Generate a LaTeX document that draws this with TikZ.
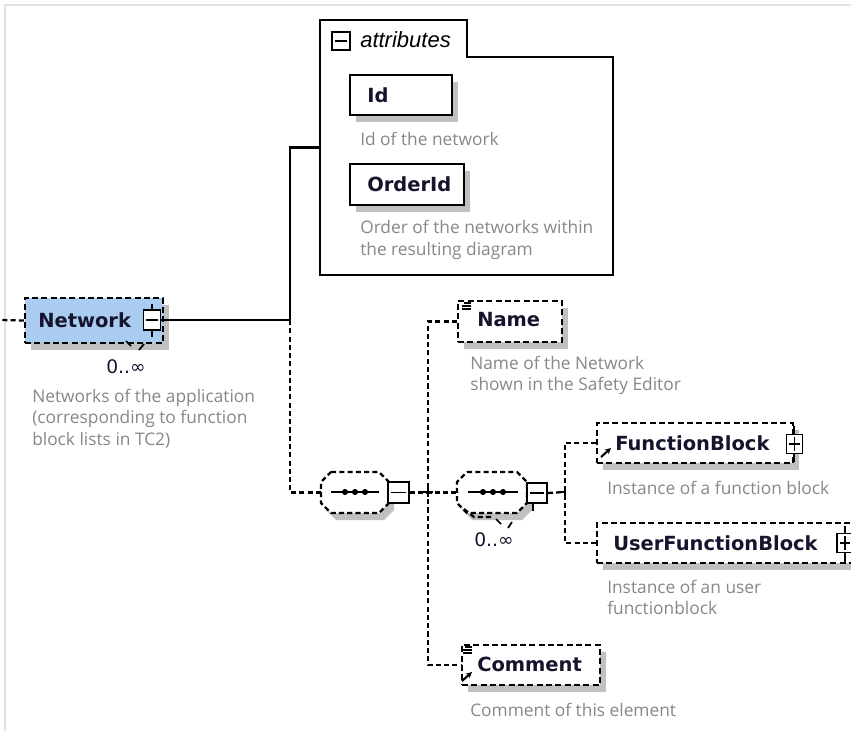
\documentclass[tikz,border=0pt]{standalone}
\usepackage{fontspec}
\setmainfont{DejaVu Sans}
\newfontfamily\descfont{Open Sans}
\newfontfamily\namefont{DejaVu Sans}
\newfontfamily\attrfont{Liberation Sans}
\usetikzlibrary{shadows,arrows.meta}

\definecolor{netblue}{RGB}{170,204,240}
\definecolor{shadowgray}{RGB}{192,192,192}
\definecolor{descgray}{RGB}{135,135,135}
\definecolor{namecol}{RGB}{20,20,45}
\definecolor{framegray}{RGB}{226,226,226}

\begin{document}
\begin{tikzpicture}[x=0.75pt,y=-0.75pt,
  sz/.style 2 args={minimum width=#1*0.75pt, minimum height=#2*0.75pt, inner sep=0pt},
  shade/.style={drop shadow={shadow xshift=4.5pt, shadow yshift=-5.25pt, fill=shadowgray, opacity=1}},
  elembox/.style={rectangle, draw=black, line width=1.6pt, dash pattern=on 4.5pt off 2.5pt, fill=white, shade},
  solidbox/.style={rectangle, draw=black, line width=1.7pt, fill=white, shade},
  conn/.style={line width=1.7pt, dash pattern=on 3.8pt off 2.4pt},
  solidconn/.style={line width=1.6pt},
  minusbox/.style={rectangle, draw=black, line width=1.4pt, fill=white, inner sep=0pt,
    path picture={\draw[line width=1.2pt] ([xshift=2.2pt]path picture bounding box.west) -- ([xshift=-2.2pt]path picture bounding box.east);}},
  plusbox/.style={minusbox,
    path picture={\draw[line width=1.2pt] ([xshift=2.2pt]path picture bounding box.west) -- ([xshift=-2.2pt]path picture bounding box.east);
                  \draw[line width=1.2pt] ([yshift=-2.2pt]path picture bounding box.north) -- ([yshift=2.2pt]path picture bounding box.south);}},
  elname/.style={font=\namefont\bfseries\fontsize{14.6}{16}\selectfont, text=namecol, anchor=west, inner sep=0pt},
  desc/.style={font=\descfont\fontsize{13}{16.1}\selectfont, text=descgray, anchor=west, align=left, inner sep=0pt},
  mult/.style={font=\fontsize{14}{16}\selectfont, text=namecol, inner sep=0pt},
  icon/.style={line width=0.8pt},
  refarrow/.style={line width=1.6pt, -{Stealth[length=4.5pt,width=4.5pt]}}
]
\useasboundingbox (0,0) rectangle (851,731);

% outer frame
\draw[framegray, line width=1.5pt] (5,731) -- (5,5) -- (851,5);

% ---------- Network element ----------
\node[elembox, sz={138}{45}, fill=netblue] (net) at (94,320.5) {};
\node[elname] (netlbl) at (38,320) {Network};
\draw[line width=1.4pt] (152,304) -- (152,337);
\node[minusbox, sz={17}{20}] (netpm) at (152,320) {};
\draw[line width=1.3pt] (126,341) -- (131,346) (139,350) -- (144,344);
\node[mult] (netmult) at (126,367) {0..∞};
\node[desc] (netdesc) at (32,418.5) {Networks of the application\\(corresponding to function\\block lists in TC2)};
\coordinate (inL) at (0,320);
\draw[conn] (net.west) -- (inL);

% ---------- attributes group ----------
\node[sz={293}{255}] (attr) at (466.5,147.5) {};
\draw[line width=1.7pt] (320,275) -- (320,20) -- (467,20) -- (467,57) -- (613,57) -- (613,275) -- cycle;
\node[minusbox, sz={18}{18}] (attrpm) at (341,41) {};
\node[font=\attrfont\itshape\fontsize{16.5}{18}\selectfont, anchor=west, inner sep=0pt] (attrlbl) at (360,40) {attributes};

\node[solidbox, sz={102}{40}] (id) at (401,95) {};
\node[elname] (idlbl) at (367,95) {Id};
\node[desc] (iddesc) at (360,139) {Id of the network};

\node[solidbox, sz={114}{41}] (ord) at (407,184.5) {};
\node[elname] (ordlbl) at (367,184.5) {OrderId};
\node[desc] (orddesc) at (360,240) {Order of the networks within\\the resulting diagram};

% ---------- outer sequence ----------
\node[sz={68}{41}] (seq1) at (355,492.5) {};
\fill[shadowgray] (336,479) -- (384,479) -- (394,489) -- (394,510) -- (384,520) -- (336,520) -- (326,510) -- (326,489) -- cycle;
\draw[conn, fill=white] (331,472) -- (379,472) -- (389,482) -- (389,503) -- (379,513) -- (331,513) -- (321,503) -- (321,482) -- cycle;
\draw[line width=1.4pt] (331,492) -- (379,492);
\fill (345,492) circle (2.3pt) (355,492) circle (2.3pt) (365,492) circle (2.3pt);
\node[minusbox, sz={21}{21}] (seq1pm) at (398.5,492.5) {};

% ---------- inner sequence ----------
\node[sz={70}{41}] (seq2) at (492,492.5) {};
\fill[shadowgray] (472,479) -- (522,479) -- (532,489) -- (532,510) -- (522,520) -- (472,520) -- (462,510) -- (462,489) -- cycle;
\draw[conn, fill=white] (467,472) -- (517,472) -- (527,482) -- (527,503) -- (517,513) -- (467,513) -- (457,503) -- (457,482) -- cycle;
\draw[conn] (464,509) -- (474,517) -- (494,517);
\draw[line width=1.3pt] (496,519) -- (501,524) (508,528) -- (512,522);
\draw[line width=1.4pt] (468,492) -- (518,492);
\fill (483,492) circle (2.3pt) (493,492) circle (2.3pt) (503,492) circle (2.3pt);
\draw[line width=1.4pt] (533,500) -- (533,511);
\node[minusbox, sz={20}{20}] (seq2pm) at (537,493) {};
\node[mult] (seqmult) at (494,540) {0..∞};

% ---------- child elements ----------
\node[elembox, sz={104}{41}] (name) at (510,321.5) {};
\node[elname] (namelbl) at (477,320) {Name};
\draw[icon] (464,303) -- (471,303) (462,306) -- (471,306) (462,309) -- (471,309);
\node[desc] (namedesc) at (470,375.5) {Name of the Network\\shown in the Safety Editor};

\node[elembox, sz={196}{40}] (fb) at (695,443) {};
\node[elname] (fblbl) at (615,443) {FunctionBlock};
\draw[line width=1.4pt] (794,426) -- (794,462);
\node[plusbox, sz={16}{19}] (fbpm) at (794.5,444) {};
\draw[refarrow] (601,457) -- (611,448);
\node[desc] (fbdesc) at (607,488) {Instance of a function block};

\node[elembox, sz={256}{40}] (ufb) at (725,543) {};
\node[elname] (ufblbl) at (613,543) {UserFunctionBlock};
\draw[line width=1.4pt] (845,526) -- (845,562);
\node[plusbox, sz={16}{19}] (ufbpm) at (845,543) {};
\node[desc] (ufbdesc) at (607,597.5) {Instance of an user\\functionblock};

\node[elembox, sz={138}{40}] (cmt) at (531,665) {};
\node[elname] (cmtlbl) at (477,664) {Comment};
\draw[icon] (465,647) -- (472,647) (463,650) -- (472,650) (463,653) -- (472,653);
\draw[refarrow] (462,681) -- (472,672);
\node[desc] (cmtdesc) at (470,710) {Comment of this element};

% ---------- connectors ----------
\coordinate (j1) at (290,320);
\coordinate (j2) at (428,492);
\coordinate (j3) at (565,492);
\draw[solidconn] (netpm.east) -- (j1) |- (attr.west);
\draw[conn] (j1) |- (seq1.west);
\draw[conn] (seq1pm.east) -- (seq2.west);
\draw[conn] (name.west) -| (j2) |- (cmt.west);
\draw[line width=1.4pt] (423,492) -- (433,492) (428,487) -- (428,497);
\draw[conn] (seq2pm.east) -- (j3);
\draw[conn] (fb.west) -| (j3) |- (ufb.west);
\draw[line width=1.4pt] (560,492) -- (565,492) (565,487) -- (565,497);
\end{tikzpicture}
\end{document}
